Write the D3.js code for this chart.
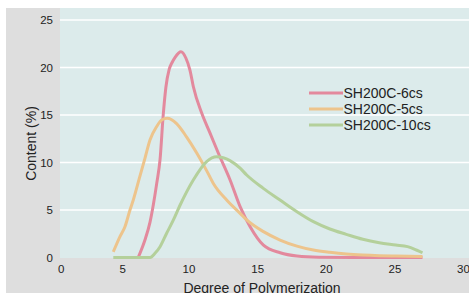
<!DOCTYPE html>
<html>
<head>
<meta charset="utf-8">
<script src="https://cdn.jsdelivr.net/npm/d3@7"></script>
<style>
  body { margin: 0; background: #fff; }
  svg { display: block; font-family: "Liberation Sans", Arial, sans-serif; }
</style>
</head>
<body>
<div id="chart"></div>
<script>
'use strict';

const xTicks = [0, 5, 10, 15, 20, 25, 30];
const yTicks = [0, 5, 10, 15, 20, 25];
const seriesNames = ['SH200C-6cs', 'SH200C-5cs', 'SH200C-10cs'];
const seriesColors = ['#e3899d', '#edc48c', '#b4d09b'];

// [degree, content %]
const sh6cs = [[6.2, 0], [6.71, 1.84], [7.09, 3.7], [7.35, 5.6], [7.6, 7.8], [7.85, 10.3], [8.09, 15.0], [8.29, 17.9], [8.54, 19.8], [8.75, 20.5], [9.0, 21.1], [9.43, 21.66], [9.8, 21.0], [10.11, 19.7], [10.35, 18.0], [10.96, 15.2], [11.57, 13.1], [12.17, 11.0], [13.03, 8.16], [13.76, 5.35], [14.49, 3.24], [15.46, 1.3], [16.68, 0.5], [17.9, 0.16], [19.5, 0.03], [22, 0], [25, 0], [27.05, 0]];
const sh5cs = [[4.27, 0.6], [4.81, 2.2], [5.2, 3.24], [5.58, 5.0], [5.83, 6.05], [6.3, 8.4], [6.71, 10.44], [7.09, 12.37], [7.59, 13.77], [8.0, 14.5], [8.39, 14.65], [9.1, 14.1], [9.85, 12.7], [10.6, 11.0], [11.3, 9.2], [11.81, 7.8], [12.78, 6.05], [13.76, 4.65], [14.24, 3.95], [15.46, 2.72], [16.67, 1.84], [17.9, 1.2], [19.1, 0.79], [20.3, 0.55], [21.5, 0.37], [22.7, 0.26], [23.9, 0.19], [25.1, 0.15], [27.05, 0.1]];
const sh10cs = [[4.27, 0], [6, 0], [7.1, 0], [7.47, 0.44], [7.85, 1.14], [8.35, 2.55], [8.86, 3.95], [9.36, 5.5], [10.35, 8.16], [11.32, 10.1], [12.05, 10.6], [13.02, 10.2], [13.76, 9.4], [14.24, 8.68], [15.45, 7.28], [16.67, 6.05], [17.9, 4.82], [19.1, 3.77], [20.3, 3.0], [21.5, 2.44], [22.7, 1.92], [23.9, 1.56], [25.1, 1.32], [25.96, 1.14], [26.6, 0.79], [27.05, 0.5]];
const seriesData = [sh6cs, sh5cs, sh10cs];

const width = 469, height = 293;
const plot = {left: 60, top: 8, right: 469, bottom: 258};

const svg = d3.select('#chart').append('svg')
    .attr('width', width).attr('height', height);

// grey frame + plot area
svg.append('rect').attr('x', 6).attr('y', 8).attr('width', width - 6).attr('height', height - 8)
    .attr('fill', '#dedede');
svg.append('rect').attr('x', plot.left).attr('y', plot.top)
    .attr('width', plot.right - plot.left).attr('height', plot.bottom - plot.top)
    .attr('fill', '#dcebeb');

// the source axis is slightly uneven below 10, so the scale is piecewise
const x = d3.scaleLinear().domain([0, 5, 10, 30]).range([60.7, 122.3, 188.5, 463]);
const y = d3.scaleLinear().domain([0, 25]).range([257.5, 20]);

// grid lines
svg.append('g').selectAll('line').data(yTicks.filter(t => t > 0)).join('line')
    .attr('x1', plot.left).attr('x2', plot.right)
    .attr('y1', d => y(d)).attr('y2', d => y(d))
    .attr('stroke', '#fff').attr('stroke-width', 1.3);

// axes (text only)
const xAxis = svg.append('g').attr('transform', `translate(0,${plot.bottom})`)
    .call(d3.axisBottom(x).tickValues(xTicks).tickSize(0).tickPadding(7));
const yAxis = svg.append('g').attr('transform', `translate(${plot.left},0)`)
    .call(d3.axisLeft(y).tickValues(yTicks).tickSize(0).tickPadding(7));
[xAxis, yAxis].forEach(a => {
    a.select('.domain').remove();
    a.selectAll('text').attr('font-size', 11.5).attr('fill', '#222')
        .attr('font-family', '"Liberation Sans", Arial, sans-serif');
});

// title sits at the bottom edge, cut like in the source picture
svg.append('text').attr('x', 262).attr('y', 293).attr('text-anchor', 'middle')
    .attr('font-size', 14).attr('fill', '#222').text('Degree of Polymerization');
svg.append('text').attr('transform', 'translate(36,143.5) rotate(-90)').attr('text-anchor', 'middle')
    .attr('font-size', 14).attr('fill', '#222').text('Content (%)');

// curves
const line = d3.line().x(d => x(d[0])).y(d => y(d[1])).curve(d3.curveMonotoneX);
svg.append('g').selectAll('path').data(seriesData).join('path')
    .attr('d', line).attr('fill', 'none')
    .attr('stroke', (d, i) => seriesColors[i]).attr('stroke-width', 3)
    .attr('stroke-linejoin', 'round');

// legend
const legend = svg.append('g').selectAll('g').data(seriesNames).join('g')
    .attr('transform', (d, i) => `translate(309,${93 + i * 16})`);
legend.append('line').attr('x1', 0).attr('x2', 34)
    .attr('stroke', (d, i) => seriesColors[i]).attr('stroke-width', 3.2);
legend.append('text').attr('x', 34.5).attr('y', 5.2).attr('font-size', 14).attr('fill', '#222')
    .text(d => d);
</script>
</body>
</html>
